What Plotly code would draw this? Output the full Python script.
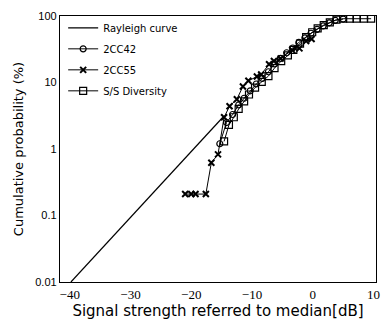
import plotly.graph_objects as go

# Rayleigh reference curve
ray_x = [-39.8, -14.8]
ray_y = [0.01, 3.0]

# 2CC42 (open circles)
c42_x = [-15.3, -14.2, -13.2, -12.2, -11.3, -10.3, -9.3, -8.3, -7.3, -6.3, -5.3, -4.3,
         -3.3, -2.3, -1.3, -0.3, 0.7, 1.7, 2.7, 3.7, 5.0]
c42_y = [1.2, 2.5, 3.3, 4.6, 5.8, 7.5, 9.5, 11.5, 14.5, 19, 23, 28,
         33, 40, 47, 55, 63, 71, 79, 86, 90]

# 2CC55 (x markers)
c55_x = [-21.0, -20.0, -19.3, -17.6, -16.7, -15.6, -14.6, -13.7, -12.5, -11.5, -10.6,
         -9.2, -8.5, -7.2, -6.4, -5.3, -3.4, -2.2, -1.1, -0.2]
c55_y = [0.21, 0.21, 0.21, 0.21, 0.62, 0.83, 3.0, 4.4, 5.6, 8.7, 10.6,
         12.3, 13.2, 18.8, 21, 23, 30.7, 32.6, 42, 45]

# S/S Diversity (open squares)
ss_x = [-14.6, -13.8, -13.0, -12.2, -11.3, -10.5, -9.5, -8.4, -7.3, -6.3, -5.2, -4.1,
        -3.2, -2.1, -1.1, -0.1, 0.8, 1.8, 2.8, 3.9, 5.0, 6.1, 7.2, 8.4, 9.6]
ss_y = [1.3, 2.3, 3.0, 4.0, 5.2, 6.6, 8.4, 10.2, 12.5, 16.5, 21, 25.5,
        31, 38.5, 48, 57, 65, 73, 80, 88, 91, 91, 91, 91, 91]

x_ticks = [-40, -30, -20, -10, 0, 10]
x_tick_text = ["\u221240", "\u221230", "\u221220", "\u221210", "0", "10"]
y_ticks = [0.01, 0.1, 1, 10, 100]
y_tick_text = ["0.01", "0.1", "1", "10", "100"]

fig = go.Figure()
fig.add_trace(go.Scatter(x=ray_x, y=ray_y, mode="lines", name="Rayleigh curve",
                         legendgroup="a", line=dict(color="black", width=1.2)))
fig.add_trace(go.Scatter(x=c42_x, y=c42_y, mode="lines+markers", name="2CC42",
                         legendgroup="b", line=dict(color="black", width=1),
                         marker=dict(symbol="circle-open", size=6, color="black",
                                     line=dict(width=1.2))))
fig.add_trace(go.Scatter(x=c55_x, y=c55_y, mode="lines+markers", name="2CC55",
                         legendgroup="c", line=dict(color="black", width=1),
                         marker=dict(symbol="x-thin", size=6, color="black",
                                     line=dict(width=2, color="black"))))
fig.add_trace(go.Scatter(x=ss_x, y=ss_y, mode="lines+markers", name="S/S Diversity",
                         legendgroup="d", line=dict(color="black", width=1),
                         marker=dict(symbol="square-open", size=7, color="black",
                                     line=dict(width=1.2))))

fig.update_layout(
    width=390, height=327,
    margin=dict(l=60, r=10, t=14, b=45),
    paper_bgcolor="white", plot_bgcolor="white",
    font=dict(family="Liberation Sans, Arial, sans-serif", color="black", size=12),
    showlegend=True,
    legend=dict(x=0.01, y=1.01, xanchor="left", yanchor="top",
                bgcolor="rgba(0,0,0,0)", borderwidth=0,
                font=dict(family="DejaVu Sans, sans-serif", size=10),
                tracegroupgap=2, traceorder="grouped", itemwidth=30),
    xaxis=dict(range=[-41.6, 10.4], tickvals=x_ticks, ticktext=x_tick_text,
               showgrid=False, zeroline=False, ticks="",
               showline=True, linecolor="black", linewidth=1.3, mirror=True,
               tickfont=dict(family="Liberation Serif, Times New Roman, serif", size=13),
               title=dict(text="Signal strength referred to median[dB]",
                          font=dict(family="DejaVu Sans, sans-serif", size=15),
                          standoff=4)),
    yaxis=dict(type="log", range=[-2, 2], tickvals=y_ticks, ticktext=y_tick_text,
               showgrid=False, zeroline=False, ticks="",
               showline=True, linecolor="black", linewidth=1.3, mirror=True,
               tickfont=dict(size=11),
               title=dict(text="Cumulative probability (%)",
                          font=dict(family="DejaVu Sans, sans-serif", size=13),
                          standoff=8)),
)

fig.write_html("out.html")
